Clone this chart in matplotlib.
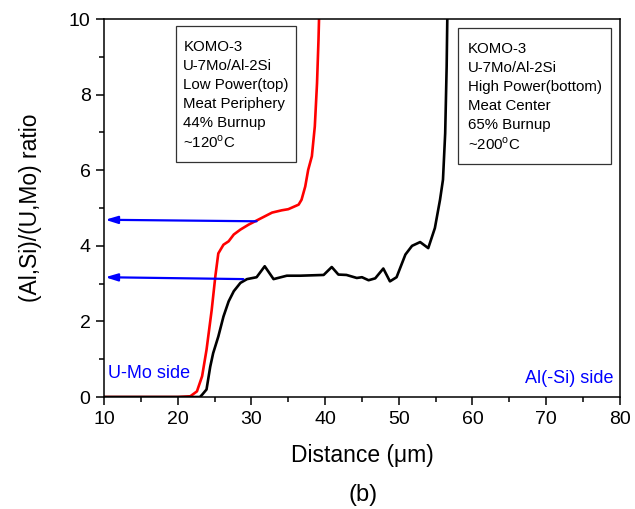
import matplotlib
matplotlib.use('Agg')
import matplotlib.pyplot as plt
from matplotlib.patches import Rectangle

plt.rcParams['font.family'] = ['Liberation Sans', 'DejaVu Sans']
plt.rcParams['mathtext.fontset'] = 'custom'
plt.rcParams['mathtext.rm'] = 'Liberation Sans'

# Low power (top), meat periphery, 44% burnup
red_x = [10, 15, 20, 21.7, 22.6, 23.3, 23.9, 24.6, 25.1, 25.5, 26.2, 26.9, 27.6,
         28.5, 29.6, 30.7, 31.6, 32.8, 34.1, 35.0, 36.4, 36.8, 37.3, 37.7, 38.2,
         38.6, 38.9, 39.1, 39.2]
red_y = [0.0, 0.0, 0.0, 0.02, 0.15, 0.55, 1.25, 2.3, 3.2, 3.8, 4.03, 4.12, 4.3,
         4.43, 4.56, 4.67, 4.76, 4.88, 4.94, 4.97, 5.09, 5.22, 5.57, 6.01, 6.37,
         7.16, 8.3, 9.45, 10.2]

# High power (bottom), meat center, 65% burnup
black_x = [10, 15, 20, 23.0, 23.3, 23.9, 24.4, 24.8, 25.5, 26.2, 26.9, 27.6,
           28.5, 29.4, 30.7, 31.8, 33.0, 34.8, 36.6, 39.8, 40.9, 41.8, 42.9,
           44.3, 45.0, 45.9, 46.8, 47.9, 48.8, 49.7, 50.9, 51.8, 52.9, 54.0,
           54.9, 55.6, 56.0, 56.3, 56.5, 56.6]
black_y = [0.0, 0.0, 0.0, 0.0, 0.06, 0.2, 0.8, 1.16, 1.6, 2.13, 2.53, 2.8,
           3.02, 3.12, 3.17, 3.46, 3.12, 3.21, 3.21, 3.23, 3.44, 3.24, 3.23,
           3.15, 3.17, 3.09, 3.14, 3.40, 3.06, 3.17, 3.77, 4.0, 4.1, 3.94,
           4.47, 5.22, 5.75, 6.98, 8.75, 10.2]

# plateau arrows: tail x, tail level, head level
arrow_tail_x = [30.7, 28.9]
arrow_tail_y = [4.65, 3.12]
arrow_head_y = [4.69, 3.17]

box_low = ['KOMO-3', 'U-7Mo/Al-2Si', 'Low Power(top)', 'Meat Periphery',
           '44% Burnup', r'~120$^\mathrm{o}$C']
box_high = ['KOMO-3', 'U-7Mo/Al-2Si', 'High Power(bottom)', 'Meat Center',
            '65% Burnup', r'~200$^\mathrm{o}$C']

fig = plt.figure(figsize=(6.35, 5.09), dpi=100)
ax = fig.add_axes([0.164, 0.22, 0.812, 0.7425])

ax.plot(red_x, red_y, color='#ff0000', lw=1.9)
ax.plot(black_x, black_y, color='black', lw=1.9)

for xt, yt, yh in zip(arrow_tail_x, arrow_tail_y, arrow_head_y):
    ax.annotate('', xy=(10.15, yh), xytext=(xt, yt),
                arrowprops=dict(arrowstyle='-|>,head_length=0.72,head_width=0.22',
                                color='#0000ff', lw=1.6, mutation_scale=10,
                                shrinkA=0, shrinkB=0))


def info_box(x0, x1, y0, y1, tx, ty, lines):
    ax.add_patch(Rectangle((x0, y0), x1 - x0, y1 - y0, fill=True, fc='white',
                           ec='#333333', lw=0.9, zorder=3))
    for i, s in enumerate(lines):
        ax.text(tx, ty - i * 0.503, s, fontsize=10.8, va='center', ha='left', zorder=4)


info_box(19.8, 36.05, 6.22, 9.81, 20.75, 9.26, box_low)
info_box(58.0, 78.8, 6.16, 9.76, 59.4, 9.21, box_high)

ax.text(10.55, 0.635, 'U-Mo side', color='#0000ff', fontsize=13, va='center', ha='left')
ax.text(79.1, 0.50, 'Al(-Si) side', color='#0000ff', fontsize=13, va='center', ha='right')

ax.set_xlim(10, 80)
ax.set_ylim(0, 10)
ax.set_xticks(range(10, 81, 10))
ax.set_xticks(range(15, 80, 10), minor=True)
ax.set_yticks(range(0, 11, 2))
ax.set_yticks(range(1, 10, 2), minor=True)
ax.tick_params(which='major', direction='out', length=5.8, width=1.1,
               labelsize=14, pad=4)
ax.tick_params(which='minor', direction='out', length=3.6, width=1.1)
for sp in ax.spines.values():
    sp.set_linewidth(1.1)

ax.set_xlabel('Distance (μm)', fontsize=16.5, labelpad=12)
ax.set_ylabel('(Al,Si)/(U,Mo) ratio', fontsize=16.5, labelpad=19)
fig.text(0.571, 0.027, '(b)', fontsize=17, ha='center', va='center')

fig.savefig('out.png', dpi=100)
